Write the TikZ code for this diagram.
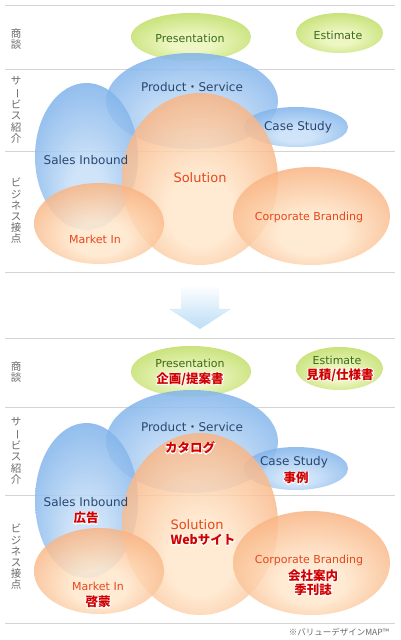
\documentclass[tikz,border=0pt]{standalone}
\usepackage{fontspec}
\setmainfont{DejaVu Sans}
\newfontfamily\jp{Noto Sans CJK JP}
\newfontfamily\jphalo[BoldFeatures={FakeBold=12}]{Noto Sans CJK JP}
\usetikzlibrary{shapes.geometric}
\definecolor{gedge}{HTML}{A6CF38}
\definecolor{gcent}{HTML}{EEF7C4}
\definecolor{bedge}{HTML}{4F94E2}
\definecolor{bcent}{HTML}{C8E0F8}
\definecolor{oedge}{HTML}{F48642}
\definecolor{ocent}{HTML}{FFE8CC}
\definecolor{gtext}{HTML}{3A6A18}
\definecolor{btext}{HTML}{284670}
\definecolor{otext}{HTML}{E8461C}
\definecolor{jred}{HTML}{D00000}
\definecolor{side}{HTML}{6A6A6A}
\definecolor{rule}{HTML}{D4D4D4}
\definecolor{arrowb}{HTML}{BCDDF6}
\pgfdeclareradialshading{gball}{\pgfpoint{0bp}{-8bp}}{color(0bp)=(gcent); color(8bp)=(gcent); color(47bp)=(gedge)}
\pgfdeclareradialshading{bball}{\pgfpoint{0bp}{-14bp}}{color(0bp)=(bcent); color(8bp)=(bcent); color(45bp)=(bedge)}
\pgfdeclareradialshading{oball}{\pgfpoint{0bp}{-12bp}}{color(0bp)=(ocent); color(10bp)=(ocent); color(46bp)=(oedge)}
\tikzset{
  x=1pt, y=1pt,
  blob/.style={ellipse, draw=none, inner sep=0pt},
  gblob/.style={blob, shading=gball},
  bblob/.style={blob, shading=bball, fill opacity=0.86},
  oblob/.style={blob, shading=oball, fill opacity=0.84},
  sz/.style 2 args={minimum width=#1pt, minimum height=#2pt},
  rulel/.style={draw=rule, line width=0.9pt},
  sidel/.style={text=side, font=\jp\fontsize{10.5}{11.2}\selectfont, align=center, inner sep=0pt},
  gl/.style={text=gtext, font=\fontsize{11}{12}\selectfont, inner sep=0pt},
  bl/.style={text=btext, font=\fontsize{12}{13}\selectfont, inner sep=0pt},
  ol/.style={text=otext, font=\fontsize{11}{12}\selectfont, inner sep=0pt},
  jr/.style={text=jred, font=\jp\fontsize{12.5}{13}\selectfont\bfseries, inner sep=0pt},
  jh/.style={text=white, font=\jphalo\fontsize{12.5}{13}\selectfont\bfseries, inner sep=0pt},
  foot/.style={text=side, font=\jp\fontsize{8.5}{9}\selectfont, inner sep=0pt, anchor=east},
}
\newcommand\redlab[3]{%
  \node[jh] at (#1) {#3};
  \node[jr] (#2) at (#1) {#3};}
\newcommand\vch{\rotatebox[origin=c]{-90}{ー}}
\newcommand\mdot{{\jp ・}}
\begin{document}
\begin{tikzpicture}
\useasboundingbox (0,0) rectangle (400,640);
\fill[white] (0,0) rectangle (400,640);
% ===== top panel =====
\coordinate (t0l) at (5,635); \coordinate (t0r) at (395,635);
\coordinate (t1l) at (5,571); \coordinate (t1r) at (395,571);
\coordinate (t2l) at (5,489); \coordinate (t2r) at (395,489);
\coordinate (t3l) at (5,368); \coordinate (t3r) at (395,368);
\draw[rulel] (t0l) -- (t0r);
\draw[rulel] (t1l) -- (t1r);
\draw[rulel] (t2l) -- (t2r);
\draw[rulel] (t3l) -- (t3r);
\node[gblob, sz={120}{48}] (tpres) at (191,603) {};
\node[gblob, sz={87}{40}] (test) at (339.5,607) {};
\node[bblob, sz={172}{96}] (tprod) at (192,539) {};
\node[bblob, sz={104}{40}] (tcase) at (296,513) {};
\node[bblob, sz={103}{147}] (tsales) at (86.5,483.5) {};
\node[oblob, sz={156}{172}] (tsol) at (200,461) {};
\node[oblob, sz={130}{81}] (tmkt) at (99,416.5) {};
\node[oblob, sz={157}{98}] (tcorp) at (311.5,424) {};
\node[sidel] (ts1) at (16,601) {商\\談};
\node[sidel] (ts2) at (16,530) {サ\\\vch\\ビ\\ス\\紹\\介};
\node[sidel] (ts3) at (16,429) {ビ\\ジ\\ネ\\ス\\接\\点};
\node[gl] (ttpres) at (190,602) {Presentation};
\node[gl] (ttest) at (338,605) {Estimate};
\node[bl] (ttprod) at (192,553) {Product\mdot Service};
\node[bl] (ttcase) at (298,513) {Case Study};
\node[bl] (ttsales) at (86,480) {Sales Inbound};
\node[ol, font=\fontsize{13}{14}\selectfont] (ttsol) at (200,462) {Solution};
\node[ol] (ttcorp) at (309,423) {Corporate Branding};
\node[ol] (ttmkt) at (95,401) {Market In};
% ===== arrow =====
\shade[top color=white, bottom color=arrowb] (181,355) -- (219,355) -- (219,331) -- (231,331) -- (200,311) -- (169,331) -- (181,331) -- cycle;
% ===== bottom panel =====
\coordinate (b0l) at (5,302); \coordinate (b0r) at (395,302);
\coordinate (b1l) at (5,233); \coordinate (b1r) at (395,233);
\coordinate (b2l) at (5,145); \coordinate (b2r) at (395,145);
\coordinate (b3l) at (5,17); \coordinate (b3r) at (395,17);
\draw[rulel] (b0l) -- (b0r);
\draw[rulel] (b1l) -- (b1r);
\draw[rulel] (b2l) -- (b2r);
\draw[rulel] (b3l) -- (b3r);
\node[gblob, sz={120}{51}] (bpres) at (191,268.5) {};
\node[gblob, sz={87}{43}] (best) at (339.5,271.5) {};
\node[bblob, sz={172}{103}] (bprod) at (192,198.5) {};
\node[bblob, sz={104}{43}] (bcase) at (296,171.5) {};
\node[bblob, sz={103}{155}] (bsales) at (86.5,139.5) {};
\node[oblob, sz={156}{182}] (bsol) at (200,116) {};
\node[oblob, sz={130}{86}] (bmkt) at (99,69) {};
\node[oblob, sz={157}{104}] (bcorp) at (311.5,77) {};
\node[sidel] (bs1) at (16,268) {商\\談};
\node[sidel] (bs2) at (16,189) {サ\\\vch\\ビ\\ス\\紹\\介};
\node[sidel] (bs3) at (16,83) {ビ\\ジ\\ネ\\ス\\接\\点};
\node[gl] (btpres) at (190,277) {Presentation};
\redlab{190,261}{bjpres}{企画/提案書}
\node[gl] (btest) at (337,280) {Estimate};
\redlab{340,265}{bjest}{見積/仕様書}
\node[bl] (btprod) at (192,213) {Product\mdot Service};
\redlab{190,192}{bjprod}{カタログ}
\node[bl] (btcase) at (294,178) {Case Study};
\redlab{296,162}{bjcase}{事例}
\node[bl] (btsales) at (86,138) {Sales Inbound};
\redlab{86,122}{bjsales}{広告}
\node[ol, font=\fontsize{13}{14}\selectfont] (btsol) at (197,115) {Solution};
\redlab{203,100}{bjsol}{Webサイト}
\node[ol] (btcorp) at (309,80) {Corporate Branding};
\redlab{313,64}{bjcorp1}{会社案内}
\redlab{313,50}{bjcorp2}{季刊誌}
\node[ol] (btmkt) at (98,54) {Market In};
\redlab{98,38}{bjmkt}{啓蒙}
\node[foot] (note) at (389,8) {※バリューデザインMAP™};
\end{tikzpicture}
\end{document}
